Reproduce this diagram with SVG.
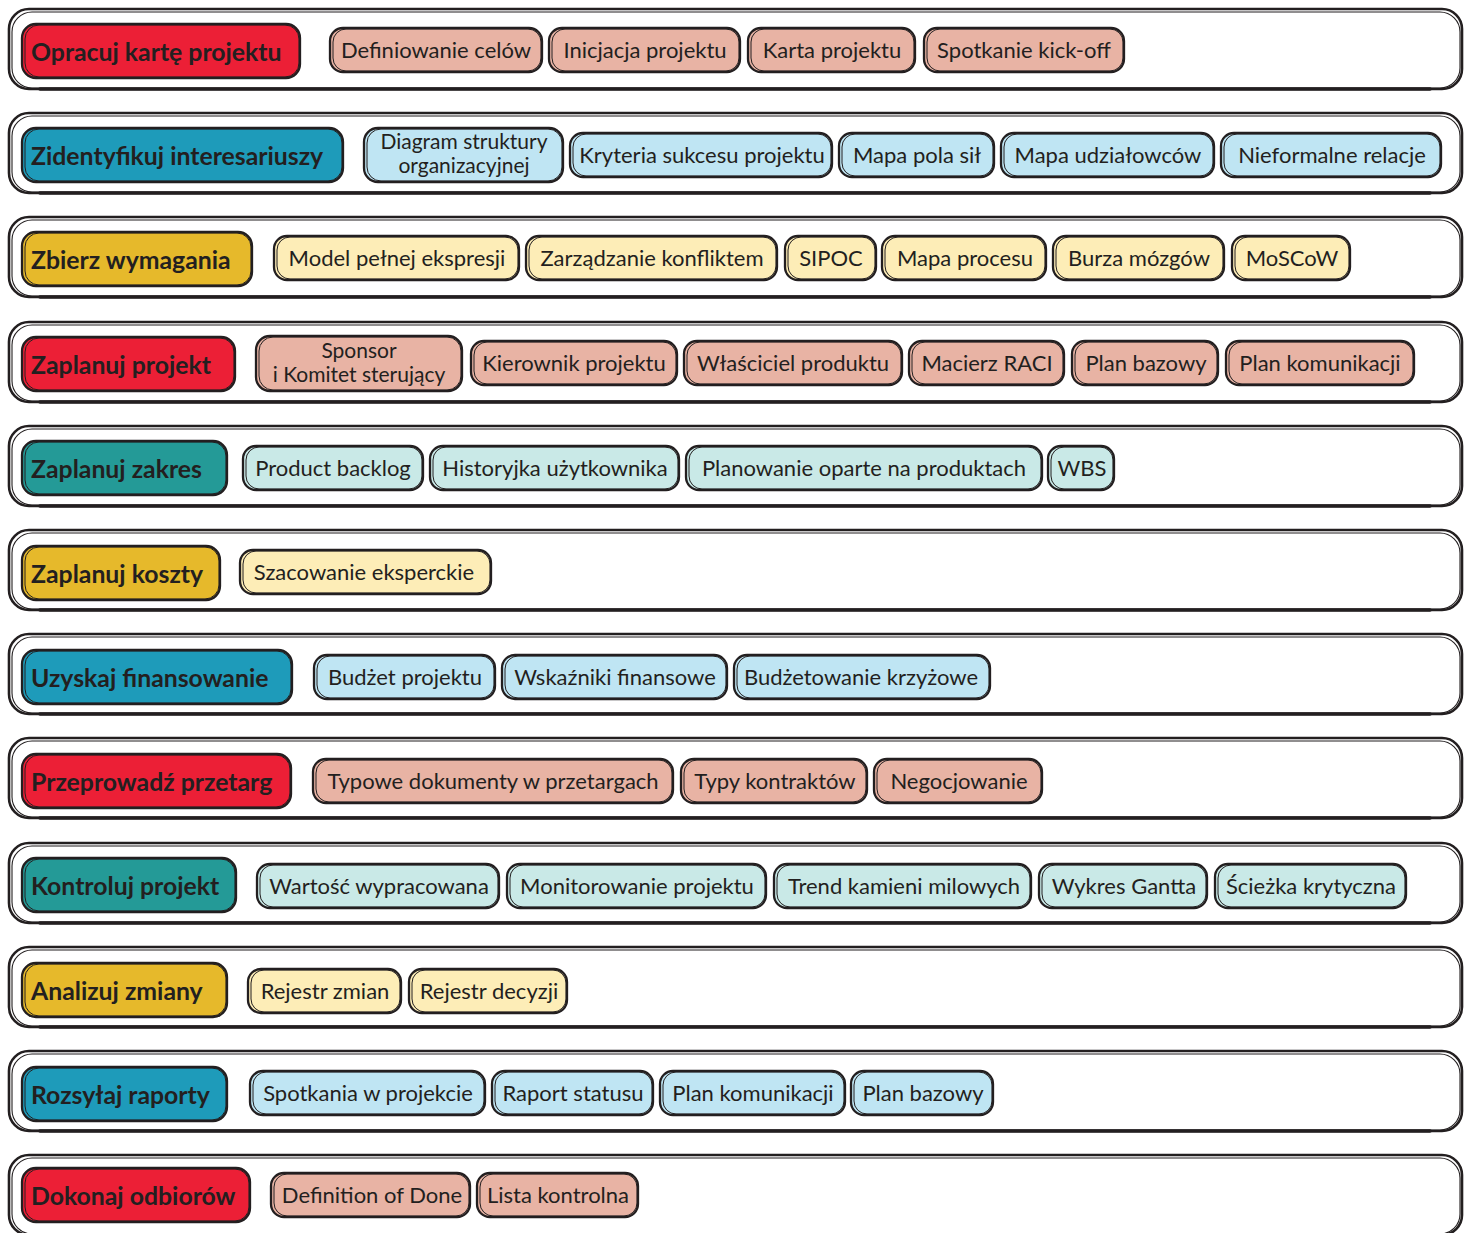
<svg xmlns="http://www.w3.org/2000/svg" width="1464" height="1233" viewBox="0 0 1464 1233">
<style>
.band{fill:#fff;stroke:#231F20;stroke-width:2.6}
.band2{fill:none;stroke:#231F20;stroke-width:1.1}
.bot{fill:none;stroke:#231F20;stroke-width:3.5;stroke-linecap:round}
.o{stroke:#231F20;stroke-width:2.3}
.s{fill:none;stroke:#231F20;stroke-width:1}
.rm{fill:#EC1F36}.rc{fill:#E8B3A4}
.bm{fill:#1E9BBA}.bc{fill:#BFE5F3}
.ym{fill:#E6B92B}.yc{fill:#FDEDB7}
.tm{fill:#249A97}.tc{fill:#C9E9E7}
.mt{font-family:Lato,"Noto Sans",sans-serif;font-weight:700;font-size:24.8px;fill:#231F20}
.ct{font-family:Lato,"Noto Sans",sans-serif;font-size:22px;fill:#231F20;text-anchor:middle}
.c2{font-size:21px}
</style>

<g id="bands">
<rect class="band" x="9" y="9" width="1453" height="80" rx="20"/><rect class="band2" x="12" y="12" width="1448" height="76" rx="20"/><path class="bot" d="M40 89 H1430"/>
<rect class="band" x="9" y="113" width="1453" height="80" rx="20"/><rect class="band2" x="12" y="116" width="1448" height="76" rx="20"/><path class="bot" d="M40 193 H1430"/>
<rect class="band" x="9" y="217" width="1453" height="80" rx="20"/><rect class="band2" x="12" y="220" width="1448" height="76" rx="20"/><path class="bot" d="M40 297 H1430"/>
<rect class="band" x="9" y="322" width="1453" height="80" rx="20"/><rect class="band2" x="12" y="325" width="1448" height="76" rx="20"/><path class="bot" d="M40 402 H1430"/>
<rect class="band" x="9" y="426" width="1453" height="80" rx="20"/><rect class="band2" x="12" y="429" width="1448" height="76" rx="20"/><path class="bot" d="M40 506 H1430"/>
<rect class="band" x="9" y="530" width="1453" height="80" rx="20"/><rect class="band2" x="12" y="533" width="1448" height="76" rx="20"/><path class="bot" d="M40 610 H1430"/>
<rect class="band" x="9" y="634" width="1453" height="80" rx="20"/><rect class="band2" x="12" y="637" width="1448" height="76" rx="20"/><path class="bot" d="M40 714 H1430"/>
<rect class="band" x="9" y="738" width="1453" height="80" rx="20"/><rect class="band2" x="12" y="741" width="1448" height="76" rx="20"/><path class="bot" d="M40 818 H1430"/>
<rect class="band" x="9" y="843" width="1453" height="80" rx="20"/><rect class="band2" x="12" y="846" width="1448" height="76" rx="20"/><path class="bot" d="M40 923 H1430"/>
<rect class="band" x="9" y="947" width="1453" height="80" rx="20"/><rect class="band2" x="12" y="950" width="1448" height="76" rx="20"/><path class="bot" d="M40 1027 H1430"/>
<rect class="band" x="9" y="1051" width="1453" height="80" rx="20"/><rect class="band2" x="12" y="1054" width="1448" height="76" rx="20"/><path class="bot" d="M40 1131 H1430"/>
<rect class="band" x="9" y="1155" width="1453" height="80" rx="20"/><rect class="band2" x="12" y="1158" width="1448" height="76" rx="20"/>
</g>

<!-- Row 1 -->
<g id="r1-main"><rect class="o rm" x="22" y="24" width="278" height="54" rx="14"/><rect class="s" x="25" y="25" width="274" height="52" rx="14"/><text class="mt" x="31" y="61">Opracuj kartę projektu</text></g>
<g id="r1-c1"><rect class="o rc" x="330" y="28" width="212" height="44" rx="13"/><rect class="s" x="333" y="29" width="208" height="42" rx="13"/><text class="ct" x="436" y="58">Definiowanie celów</text></g>
<g id="r1-c2"><rect class="o rc" x="549" y="28" width="191" height="44" rx="13"/><rect class="s" x="552" y="29" width="187" height="42" rx="13"/><text class="ct" x="645" y="58">Inicjacja projektu</text></g>
<g id="r1-c3"><rect class="o rc" x="748" y="28" width="167" height="44" rx="13"/><rect class="s" x="751" y="29" width="163" height="42" rx="13"/><text class="ct" x="832" y="58">Karta projektu</text></g>
<g id="r1-c4"><rect class="o rc" x="924" y="28" width="200" height="44" rx="13"/><rect class="s" x="927" y="29" width="196" height="42" rx="13"/><text class="ct" x="1024" y="58">Spotkanie kick-off</text></g>

<!-- Row 2 -->
<g id="r2-main"><rect class="o bm" x="22" y="128" width="321" height="54" rx="14"/><rect class="s" x="25" y="129" width="317" height="52" rx="14"/><text class="mt" x="31" y="165">Zidentyfikuj interesariuszy</text></g>
<g id="r2-c1"><rect class="o bc" x="364" y="128" width="199" height="54" rx="14"/><rect class="s" x="367" y="129" width="195" height="52" rx="14"/><text class="ct c2" x="464" y="149">Diagram struktury</text><text class="ct c2" x="464" y="173">organizacyjnej</text></g>
<g id="r2-c2"><rect class="o bc" x="570" y="133" width="262" height="44" rx="13"/><rect class="s" x="573" y="134" width="258" height="42" rx="13"/><text class="ct" x="702" y="163">Kryteria sukcesu projektu</text></g>
<g id="r2-c3"><rect class="o bc" x="839" y="133" width="155" height="44" rx="13"/><rect class="s" x="842" y="134" width="151" height="42" rx="13"/><text class="ct" x="917" y="163">Mapa pola sił</text></g>
<g id="r2-c4"><rect class="o bc" x="1001" y="133" width="213" height="44" rx="13"/><rect class="s" x="1004" y="134" width="209" height="42" rx="13"/><text class="ct" x="1108" y="163">Mapa udziałowców</text></g>
<g id="r2-c5"><rect class="o bc" x="1221" y="133" width="220" height="44" rx="13"/><rect class="s" x="1224" y="134" width="216" height="42" rx="13"/><text class="ct" x="1332" y="163">Nieformalne relacje</text></g>

<!-- Row 3 -->
<g id="r3-main"><rect class="o ym" x="22" y="232" width="230" height="54" rx="14"/><rect class="s" x="25" y="233" width="226" height="52" rx="14"/><text class="mt" x="31" y="269">Zbierz wymagania</text></g>
<g id="r3-c1"><rect class="o yc" x="274" y="236" width="245" height="44" rx="13"/><rect class="s" x="277" y="237" width="241" height="42" rx="13"/><text class="ct" x="397" y="266">Model pełnej ekspresji</text></g>
<g id="r3-c2"><rect class="o yc" x="526" y="236" width="251" height="44" rx="13"/><rect class="s" x="529" y="237" width="247" height="42" rx="13"/><text class="ct" x="652" y="266">Zarządzanie konfliktem</text></g>
<g id="r3-c3"><rect class="o yc" x="785" y="236" width="91" height="44" rx="13"/><rect class="s" x="788" y="237" width="87" height="42" rx="13"/><text class="ct" x="831" y="266">SIPOC</text></g>
<g id="r3-c4"><rect class="o yc" x="882" y="236" width="164" height="44" rx="13"/><rect class="s" x="885" y="237" width="160" height="42" rx="13"/><text class="ct" x="965" y="266">Mapa procesu</text></g>
<g id="r3-c5"><rect class="o yc" x="1053" y="236" width="171" height="44" rx="13"/><rect class="s" x="1056" y="237" width="167" height="42" rx="13"/><text class="ct" x="1139" y="266">Burza mózgów</text></g>
<g id="r3-c6"><rect class="o yc" x="1232" y="236" width="118" height="44" rx="13"/><rect class="s" x="1235" y="237" width="114" height="42" rx="13"/><text class="ct" x="1292" y="266">MoSCoW</text></g>

<!-- Row 4 -->
<g id="r4-main"><rect class="o rm" x="22" y="337" width="213" height="54" rx="14"/><rect class="s" x="25" y="338" width="209" height="52" rx="14"/><text class="mt" x="31" y="374">Zaplanuj projekt</text></g>
<g id="r4-c1"><rect class="o rc" x="256" y="336" width="206" height="55" rx="14"/><rect class="s" x="259" y="337" width="202" height="53" rx="14"/><text class="ct c2" x="359" y="358">Sponsor</text><text class="ct c2" x="359" y="382">i Komitet sterujący</text></g>
<g id="r4-c2"><rect class="o rc" x="471" y="341" width="206" height="44" rx="13"/><rect class="s" x="474" y="342" width="202" height="42" rx="13"/><text class="ct" x="574" y="371">Kierownik projektu</text></g>
<g id="r4-c3"><rect class="o rc" x="684" y="341" width="218" height="44" rx="13"/><rect class="s" x="687" y="342" width="214" height="42" rx="13"/><text class="ct" x="793" y="371">Właściciel produktu</text></g>
<g id="r4-c4"><rect class="o rc" x="909" y="341" width="155" height="44" rx="13"/><rect class="s" x="912" y="342" width="151" height="42" rx="13"/><text class="ct" x="987" y="371">Macierz RACI</text></g>
<g id="r4-c5"><rect class="o rc" x="1072" y="341" width="146" height="44" rx="13"/><rect class="s" x="1075" y="342" width="142" height="42" rx="13"/><text class="ct" x="1146" y="371">Plan bazowy</text></g>
<g id="r4-c6"><rect class="o rc" x="1226" y="341" width="188" height="44" rx="13"/><rect class="s" x="1229" y="342" width="184" height="42" rx="13"/><text class="ct" x="1320" y="371">Plan komunikacji</text></g>

<!-- Row 5 -->
<g id="r5-main"><rect class="o tm" x="22" y="441" width="205" height="54" rx="14"/><rect class="s" x="25" y="442" width="201" height="52" rx="14"/><text class="mt" x="31" y="478">Zaplanuj zakres</text></g>
<g id="r5-c1"><rect class="o tc" x="243" y="446" width="180" height="44" rx="13"/><rect class="s" x="246" y="447" width="176" height="42" rx="13"/><text class="ct" x="333" y="476">Product backlog</text></g>
<g id="r5-c2"><rect class="o tc" x="430" y="446" width="249" height="44" rx="13"/><rect class="s" x="433" y="447" width="245" height="42" rx="13"/><text class="ct" x="555" y="476">Historyjka użytkownika</text></g>
<g id="r5-c3"><rect class="o tc" x="686" y="446" width="356" height="44" rx="13"/><rect class="s" x="689" y="447" width="352" height="42" rx="13"/><text class="ct" x="864" y="476">Planowanie oparte na produktach</text></g>
<g id="r5-c4"><rect class="o tc" x="1048" y="446" width="66" height="44" rx="13"/><rect class="s" x="1051" y="447" width="62" height="42" rx="13"/><text class="ct" x="1082" y="476">WBS</text></g>

<!-- Row 6 -->
<g id="r6-main"><rect class="o ym" x="22" y="546" width="198" height="54" rx="14"/><rect class="s" x="25" y="547" width="194" height="52" rx="14"/><text class="mt" x="31" y="583">Zaplanuj koszty</text></g>
<g id="r6-c1"><rect class="o yc" x="240" y="550" width="251" height="44" rx="13"/><rect class="s" x="243" y="551" width="247" height="42" rx="13"/><text class="ct" x="364" y="580">Szacowanie eksperckie</text></g>

<!-- Row 7 -->
<g id="r7-main"><rect class="o bm" x="22" y="650" width="270" height="54" rx="14"/><rect class="s" x="25" y="651" width="266" height="52" rx="14"/><text class="mt" x="31" y="687">Uzyskaj finansowanie</text></g>
<g id="r7-c1"><rect class="o bc" x="314" y="655" width="181" height="44" rx="13"/><rect class="s" x="317" y="656" width="177" height="42" rx="13"/><text class="ct" x="405" y="685">Budżet projektu</text></g>
<g id="r7-c2"><rect class="o bc" x="502" y="655" width="225" height="44" rx="13"/><rect class="s" x="505" y="656" width="221" height="42" rx="13"/><text class="ct" x="615" y="685">Wskaźniki finansowe</text></g>
<g id="r7-c3"><rect class="o bc" x="734" y="655" width="256" height="44" rx="13"/><rect class="s" x="737" y="656" width="252" height="42" rx="13"/><text class="ct" x="861" y="685">Budżetowanie krzyżowe</text></g>

<!-- Row 8 -->
<g id="r8-main"><rect class="o rm" x="22" y="754" width="269" height="54" rx="14"/><rect class="s" x="25" y="755" width="265" height="52" rx="14"/><text class="mt" x="31" y="791">Przeprowadź przetarg</text></g>
<g id="r8-c1"><rect class="o rc" x="313" y="759" width="360" height="44" rx="13"/><rect class="s" x="316" y="760" width="356" height="42" rx="13"/><text class="ct" x="493" y="789">Typowe dokumenty w przetargach</text></g>
<g id="r8-c2"><rect class="o rc" x="681" y="759" width="186" height="44" rx="13"/><rect class="s" x="684" y="760" width="182" height="42" rx="13"/><text class="ct" x="775" y="789">Typy kontraktów</text></g>
<g id="r8-c3"><rect class="o rc" x="874" y="759" width="168" height="44" rx="13"/><rect class="s" x="877" y="760" width="164" height="42" rx="13"/><text class="ct" x="959" y="789">Negocjowanie</text></g>

<!-- Row 9 -->
<g id="r9-main"><rect class="o tm" x="22" y="858" width="214" height="54" rx="14"/><rect class="s" x="25" y="859" width="210" height="52" rx="14"/><text class="mt" x="31" y="895">Kontroluj projekt</text></g>
<g id="r9-c1"><rect class="o tc" x="257" y="864" width="242" height="44" rx="13"/><rect class="s" x="260" y="865" width="238" height="42" rx="13"/><text class="ct" x="379" y="894">Wartość wypracowana</text></g>
<g id="r9-c2"><rect class="o tc" x="507" y="864" width="259" height="44" rx="13"/><rect class="s" x="510" y="865" width="255" height="42" rx="13"/><text class="ct" x="637" y="894">Monitorowanie projektu</text></g>
<g id="r9-c3"><rect class="o tc" x="774" y="864" width="257" height="44" rx="13"/><rect class="s" x="777" y="865" width="253" height="42" rx="13"/><text class="ct" x="904" y="894">Trend kamieni milowych</text></g>
<g id="r9-c4"><rect class="o tc" x="1039" y="864" width="168" height="44" rx="13"/><rect class="s" x="1042" y="865" width="164" height="42" rx="13"/><text class="ct" x="1124" y="894">Wykres Gantta</text></g>
<g id="r9-c5"><rect class="o tc" x="1215" y="864" width="191" height="44" rx="13"/><rect class="s" x="1218" y="865" width="187" height="42" rx="13"/><text class="ct" x="1311" y="894">Ścieżka krytyczna</text></g>

<!-- Row 10 -->
<g id="r10-main"><rect class="o ym" x="22" y="963" width="205" height="54" rx="14"/><rect class="s" x="25" y="964" width="201" height="52" rx="14"/><text class="mt" x="31" y="1000">Analizuj zmiany</text></g>
<g id="r10-c1"><rect class="o yc" x="248" y="969" width="153" height="44" rx="13"/><rect class="s" x="251" y="970" width="149" height="42" rx="13"/><text class="ct" x="325" y="999">Rejestr zmian</text></g>
<g id="r10-c2"><rect class="o yc" x="409" y="969" width="158" height="44" rx="13"/><rect class="s" x="412" y="970" width="154" height="42" rx="13"/><text class="ct" x="489" y="999">Rejestr decyzji</text></g>

<!-- Row 11 -->
<g id="r11-main"><rect class="o bm" x="22" y="1067" width="205" height="54" rx="14"/><rect class="s" x="25" y="1068" width="201" height="52" rx="14"/><text class="mt" x="31" y="1104">Rozsyłaj raporty</text></g>
<g id="r11-c1"><rect class="o bc" x="250" y="1071" width="235" height="44" rx="13"/><rect class="s" x="253" y="1072" width="231" height="42" rx="13"/><text class="ct" x="368" y="1101">Spotkania w projekcie</text></g>
<g id="r11-c2"><rect class="o bc" x="492" y="1071" width="161" height="44" rx="13"/><rect class="s" x="495" y="1072" width="157" height="42" rx="13"/><text class="ct" x="573" y="1101">Raport statusu</text></g>
<g id="r11-c3"><rect class="o bc" x="660" y="1071" width="185" height="44" rx="13"/><rect class="s" x="663" y="1072" width="181" height="42" rx="13"/><text class="ct" x="753" y="1101">Plan komunikacji</text></g>
<g id="r11-c4"><rect class="o bc" x="851" y="1071" width="142" height="44" rx="13"/><rect class="s" x="854" y="1072" width="138" height="42" rx="13"/><text class="ct" x="923" y="1101">Plan bazowy</text></g>

<!-- Row 12 -->
<g id="r12-main"><rect class="o rm" x="22" y="1168" width="228" height="54" rx="14"/><rect class="s" x="25" y="1169" width="224" height="52" rx="14"/><text class="mt" x="31" y="1205">Dokonaj odbiorów</text></g>
<g id="r12-c1"><rect class="o rc" x="271" y="1173" width="199" height="44" rx="13"/><rect class="s" x="274" y="1174" width="195" height="42" rx="13"/><text class="ct" x="372" y="1203">Definition of Done</text></g>
<g id="r12-c2"><rect class="o rc" x="477" y="1173" width="161" height="44" rx="13"/><rect class="s" x="480" y="1174" width="157" height="42" rx="13"/><text class="ct" x="558" y="1203">Lista kontrolna</text></g>
</svg>
